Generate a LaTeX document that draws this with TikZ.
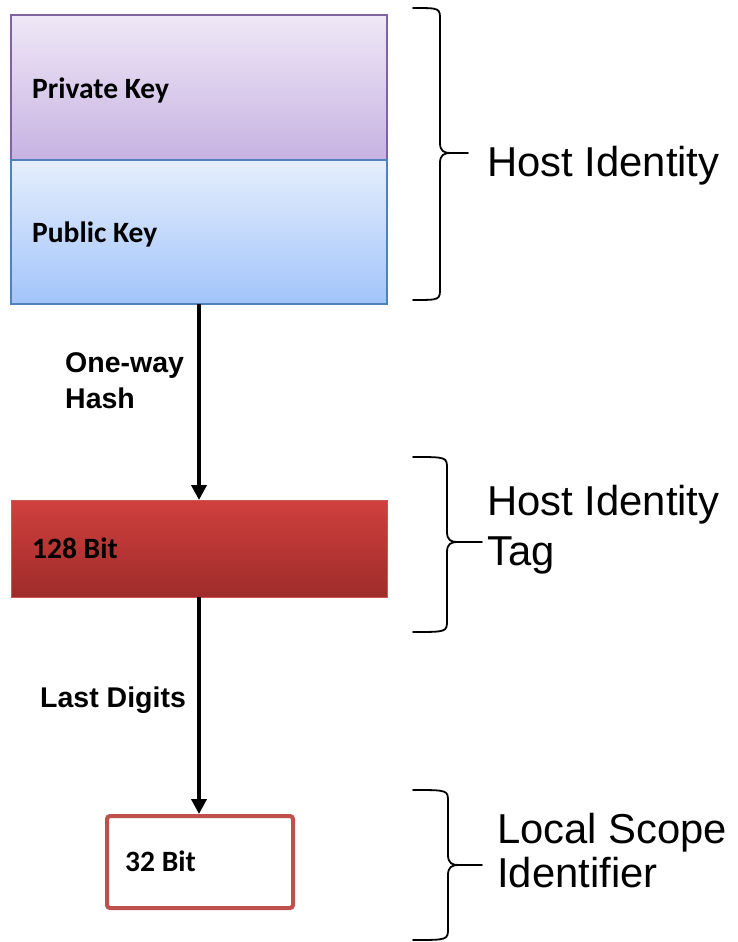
\documentclass[tikz,border=0pt]{standalone}
\usepackage{fontspec}
\setmainfont{Liberation Sans}
\newfontfamily\boxfont{Carlito}
\usetikzlibrary{arrows.meta}

\definecolor{privtop}{RGB}{239,232,246}
\definecolor{privbot}{RGB}{199,178,226}
\definecolor{privline}{RGB}{128,100,162}
\definecolor{pubtop}{RGB}{229,238,252}
\definecolor{pubbot}{RGB}{162,196,250}
\definecolor{publine}{RGB}{79,129,189}
\definecolor{tagtop}{RGB}{208,64,62}
\definecolor{tagbot}{RGB}{158,44,42}
\definecolor{tagline}{RGB}{204,86,84}
\definecolor{lsiline}{RGB}{192,80,77}

\tikzset{
  keybox/.style={draw, line width=1.3pt, minimum width=376pt, anchor=north west,
                 inner sep=0pt, outer sep=0pt},
  boxtext/.style={anchor=base west, inner sep=0pt,
                  font=\boxfont\bfseries\fontsize{29.5}{35}\selectfont},
  steplabel/.style={anchor=base west, inner sep=0pt,
                    font=\bfseries\fontsize{28.5}{34}\selectfont},
  sidelabel/.style={anchor=base west, inner sep=0pt,
                    font=\fontsize{41.8}{50}\selectfont},
  flow/.style={line width=4pt, -{Triangle[length=15pt,width=15pt]}},
  bracepath/.style={line width=1.8pt, line cap=round, line join=round}
}

% right curly brace: left end x, stem x, top y, tip y, bottom y, tip end x
\newcommand\sidebrace[6]{%
  \draw[bracepath] (#1,#3) .. controls (#2,#3) .. (#2,#3+12) -- (#2,#4-10)
        .. controls (#2,#4-2) and (#2+4,#4) .. (#2+10,#4) -- (#6,#4);
  \draw[bracepath] (#1,#5) .. controls (#2,#5) .. (#2,#5-12) -- (#2,#4+10)
        .. controls (#2,#4+2) and (#2+4,#4) .. (#2+10,#4);
}

\begin{document}
\begin{tikzpicture}[x=1pt,y=-1pt]
  \useasboundingbox[fill=white] (0,0) rectangle (738,942);

  % host identity: key pair
  \node[keybox, minimum height=145pt, draw=privline, top color=privtop, bottom color=privbot]
        (priv) at (11,15) {};
  \node[keybox, minimum height=144pt, draw=publine, top color=pubtop, bottom color=pubbot]
        (pub) at (11,160) {};
  \node[boxtext] (privtxt) at (32,98) {Private Key};
  \node[boxtext] (pubtxt) at (32,242) {Public Key};

  % host identity tag
  \node[keybox, minimum height=97pt, draw=tagline, line width=1pt,
        top color=tagtop, bottom color=tagbot] (tag) at (11,500) {};
  \node[boxtext] (tagtxt) at (32,558) {128 Bit};

  % local scope identifier
  \node[draw=lsiline, line width=4pt, rounded corners=3pt, fill=white,
        minimum width=186pt, minimum height=92pt, inner sep=0pt, anchor=north west]
        (lsi) at (105,814) {};
  \node[boxtext] (lsitxt) at (125,871) {32 Bit};

  % derivation steps
  \draw[flow] (pub.south) -- (tag.north);
  \draw[flow] (tag.south) -- (lsi.north -| tag.south);
  \node[steplabel] (hash1) at (65,372) {One-way};
  \node[steplabel] (hash2) at (65,408) {Hash};
  \node[steplabel] (digits) at (40,707) {Last Digits};

  % braces and their captions
  \sidebrace{413}{440}{8}{153}{300}{468}
  \sidebrace{413}{447}{457}{542}{632}{482}
  \sidebrace{413}{448}{790}{865}{940}{482}

  \node[sidelabel] (hi) at (487,176) {Host Identity};
  \node[sidelabel] (hit1) at (487,515) {Host Identity};
  \node[sidelabel] (hit2) at (487,565) {Tag};
  \node[sidelabel] (lsi1) at (497,843) {Local Scope};
  \node[sidelabel] (lsi2) at (497,887) {Identifier};
\end{tikzpicture}
\end{document}
